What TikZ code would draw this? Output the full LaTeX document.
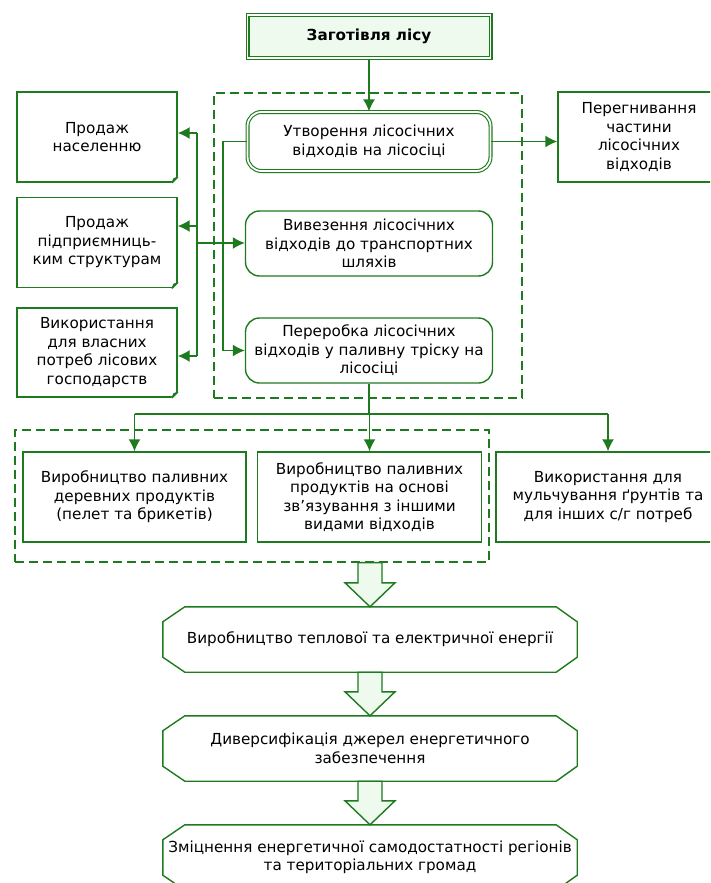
\documentclass[tikz,border=0pt]{standalone}
\usepackage{fontspec}
\setmainfont{DejaVu Sans}
\usetikzlibrary{arrows.meta,calc}
\definecolor{dgreen}{RGB}{30,122,30}
\definecolor{lgreen}{RGB}{238,250,238}
\def\octagon#1{\draw[ln] ($(#1.north west)+(22pt,0)$) -- ($(#1.north east)+(-21pt,0)$) -- ($(#1.north east)+(0,-15pt)$) -- ($(#1.south east)+(0,15pt)$) -- ($(#1.south east)+(-21pt,0)$) -- ($(#1.south west)+(22pt,0)$) -- ($(#1.south west)+(0,15pt)$) -- ($(#1.north west)+(0,-15pt)$) -- cycle;}
\def\dogear#1{\fill[white] ($(#1.south east)+(-7pt,-1pt)$) -- ($(#1.south east)+(1pt,-1pt)$) -- ($(#1.south east)+(1pt,7pt)$) -- cycle;
\draw[ln,line join=round] ($(#1.south east)+(-5.5pt,0)$) -- ($(#1.south east)+(0,5.5pt)$) -- ($(#1.south east)+(-3.8pt,3.8pt)$) -- cycle;}
\def\fatarrow#1#2{\draw[ln,fill=lgreen] ($(#1)+(-12pt,0)$) -- ($(#1)+(12pt,0)$) -- ($(#2.north)+(12pt,24pt)$) -- ($(#2.north)+(25pt,24pt)$) -- (#2.north) -- ($(#2.north)+(-25pt,24pt)$) -- ($(#2.north)+(-12pt,24pt)$) -- cycle;}

\begin{document}
\begin{tikzpicture}[x=1pt,y=-1pt,
  every node/.style={font=\fontsize{15.2}{18.5}\selectfont,align=center,inner sep=0pt},
  ln/.style={draw=dgreen,line width=1.4pt},
  arr/.style={ln,-{Latex[length=12pt,width=12pt]}},
  grp/.style={ln,line width=1.3pt,dash pattern=on 9pt off 5pt},
  box/.style={ln,minimum width=#1,minimum height=90pt},
  rbox/.style={ln,rounded corners=14pt,minimum width=247pt,minimum height=65pt},
  dbl/.style={line width=1.1pt,double=white,double distance=1.8pt},
  oct/.style={minimum width=414pt,minimum height=65pt}]
\useasboundingbox (0,0) rectangle (710,883);
\clip (0,0) rectangle (710,883);

\node[grp,minimum width=308pt,minimum height=305pt] (grp1) at (368,245.5) {};
\node[grp,minimum width=474pt,minimum height=132pt] (grp2) at (252,496) {};

\node[ln,dbl,fill=lgreen,minimum width=243pt,minimum height=43pt] (zag) at (369,36.5) {\textbf{Заготівля лісу}};
\node[rbox,dbl,minimum height=59pt,minimum width=243pt] (utv) at (369,141.5) {Утворення лісосічних\\відходів на лісосіці};
\node[rbox] (viv) at (369,243.5) {Вивезення лісосічних\\відходів до транспортних\\шляхів};
\node[rbox] (perer) at (369,350.5) {Переробка лісосічних\\відходів у паливну тріску на\\лісосіці};

\node[box=160pt] (prod1) at (97,137) {Продаж\\населенню};
\node[box=160pt] (prod2) at (97,242.5) {Продаж\\підприємниць-\\ким структурам};
\node[box=160pt,minimum height=89pt] (prod3) at (97,352.5) {Використання\\для власних\\потреб лісових\\господарств};
\dogear{prod1}
\dogear{prod2}
\dogear{prod3}
\node[box=162pt] (pereg) at (639,137) {Перегнивання\\частини\\лісосічних\\відходів};

\node[box=223pt] (d1) at (134.5,497) {Виробництво паливних\\деревних продуктів\\(пелет та брикетів)};
\node[box=224pt] (d2) at (369.5,497) {Виробництво паливних\\продуктів на основі\\зв’язування з іншими\\видами відходів};
\node[box=224pt] (d3) at (608,497) {Використання для\\мульчування ґрунтів та\\для інших с/г потреб};

\node[oct] (e1) at (370,639.5) {Виробництво теплової та електричної енергії};
\node[oct] (e2) at (370,748.5) {Диверсифікація джерел енергетичного\\забезпечення};
\node[oct] (e3) at (370,857.5) {Зміцнення енергетичної самодостатності регіонів\\та територіальних громад};
\octagon{e1}
\octagon{e2}
\octagon{e3}

\draw[arr] (zag) -- (utv);
\draw[arr] (utv.east) -- (utv.east -| pereg.west);
\coordinate (trunk) at (223,0);
\draw[arr] (utv.west) -| (trunk |- perer.west) -- (perer.west);
\coordinate (b1) at (197,133);
\coordinate (b2) at (197,226);
\coordinate (b3) at (197,356);
\coordinate (b0) at (197,243);
\draw[ln] (b1) -- (b3);
\draw[arr] (b1) -- (b1 -| prod1.east);
\draw[arr] (b2) -- (b2 -| prod2.east);
\draw[arr] (b3) -- (b3 -| prod3.east);
\draw[arr] (b0) -- (b0 -| viv.west);

\coordinate (hbus) at (0,414);
\draw[ln] (perer.south) -- (perer.south |- hbus);
\draw[ln] (d1.north |- hbus) -- (d3.north |- hbus);
\foreach \d in {d1,d2,d3}
  \draw[arr] (\d.north |- hbus) -- (\d.north);

\coordinate (a1) at (e1.north |- grp2.south);
\fatarrow{a1}{e1}
\fatarrow{e1.south}{e2}
\fatarrow{e2.south}{e3}
\end{tikzpicture}
\end{document}
